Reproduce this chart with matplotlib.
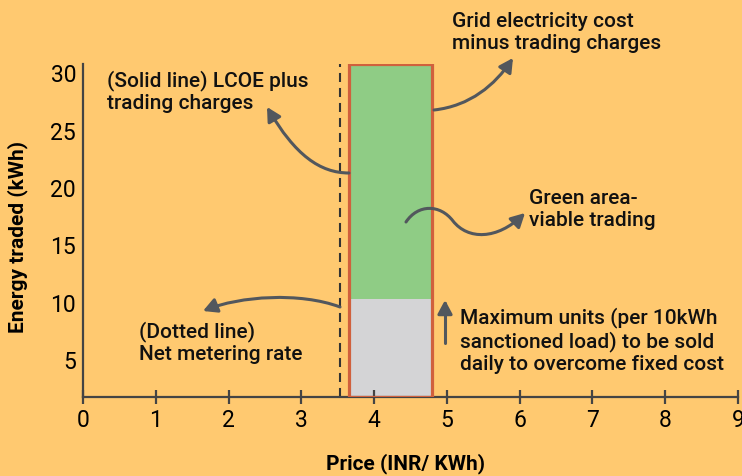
import matplotlib
matplotlib.use("Agg")
import matplotlib.pyplot as plt
from matplotlib.patches import Rectangle, FancyArrowPatch
from matplotlib.path import Path

plt.rcParams['font.family'] = ['Roboto', 'DejaVu Sans']
plt.rcParams['lines.scale_dashes'] = False

# Data
net_metering_rate = 3.53      # dashed line, INR/kWh
lcoe_plus_charges = 3.65      # left edge of the bar
grid_minus_charges = 4.8      # right edge of the bar
max_units = 10.3              # grey part (fixed cost break-even)
y_min, y_max = 1.8, 30.8
x_ticks = [0, 1, 2, 3, 4, 5, 6, 7, 8, 9]
y_ticks = [5, 10, 15, 20, 25, 30]

bg = '#FFC970'
green = '#8FCC85'
grey = '#D4D4D6'
edge = '#D0603D'
arrow_c = '#52575D'
W, H = 742, 476

fig = plt.figure(figsize=(7.42, 4.76), dpi=100, facecolor=bg)
ax = fig.add_axes([83 / W, 1 - 397 / H, (738 - 83) / W, (397 - 64) / H])
ax.set_facecolor(bg)

# grey part and green part of the bar
width = grid_minus_charges - lcoe_plus_charges
ax.add_patch(Rectangle((lcoe_plus_charges, y_min), width, max_units - y_min,
                       facecolor=grey, edgecolor='none'))
ax.add_patch(Rectangle((lcoe_plus_charges, max_units), width, y_max - max_units,
                       facecolor=green, edgecolor='none'))
ax.add_patch(Rectangle((lcoe_plus_charges, y_min), width, y_max - y_min,
                       facecolor='none', edgecolor=edge, linewidth=2.3, zorder=3))

# net metering rate
ax.axvline(net_metering_rate, color='#333333', linewidth=1.5, dashes=(6.5, 4.3))

ax.set_xlim(0, 9)
ax.set_ylim(y_min, y_max)
ax.set_xticks(x_ticks)
ax.set_yticks(y_ticks)
for s in ['top', 'right']:
    ax.spines[s].set_visible(False)
for s in ['left', 'bottom']:
    ax.spines[s].set_color('#444444')
    ax.spines[s].set_linewidth(1.6)
ax.tick_params(axis='x', direction='inout', length=9.5, width=1.6, color='#444444',
               labelsize=16.5, pad=4)
ax.tick_params(axis='y', length=0, labelsize=16.5, pad=5)

fig.text(405 / W, 1 - 464 / H, 'Price (INR/ KWh)', ha='center', va='center',
         fontsize=15, fontweight='bold')
fig.text(18 / W, 1 - 237 / H, 'Energy traded (kWh)', ha='center', va='center',
         rotation=90, fontsize=15, fontweight='bold')


def fp(x, y):
    return (x / W, 1 - y / H)


def note(x, y, s):
    fig.text(x / W, 1 - y / H, s, ha='left', va='center', fontsize=15,
             fontweight='medium', linespacing=1.2, color='#111111')


note(452, 32.5, 'Grid electricity cost\nminus trading charges')
note(107, 92, '(Solid line) LCOE plus\ntrading charges')
note(529, 209.5, 'Green area-\nviable trading')
note(139, 342.5, '(Dotted line)\nNet metering rate')
note(460, 340.5, 'Maximum units (per 10kWh\nsanctioned load) to be sold\ndaily to overcome fixed cost')

astyle = '-|>,head_length=0.75,head_width=0.4'


def curve(points, codes):
    p = Path([fp(*q) for q in points], codes)
    a = FancyArrowPatch(path=p, arrowstyle=astyle, mutation_scale=11,
                        color=arrow_c, linewidth=2.2, transform=fig.transFigure)
    fig.add_artist(a)


C4 = Path.CURVE4
# grid cost arrow
curve([(434, 110), (470, 106), (495, 85), (513, 58)], [Path.MOVETO, C4, C4, C4])
# LCOE arrow
curve([(349, 173), (320, 173), (295, 155), (267, 107)], [Path.MOVETO, C4, C4, C4])
# green area wavy arrow
curve([(406, 222), (418, 204), (440, 204), (453, 221),
       (468, 240), (497, 240), (525, 213)],
      [Path.MOVETO, C4, C4, C4, C4, C4, C4])
# net metering arrow
curve([(340, 307), (300, 292), (240, 296), (203, 311)], [Path.MOVETO, C4, C4, C4])
# max units arrow
curve([(445, 343), (445, 300)], [Path.MOVETO, Path.LINETO])

fig.savefig('out.png', dpi=100, facecolor=bg)
